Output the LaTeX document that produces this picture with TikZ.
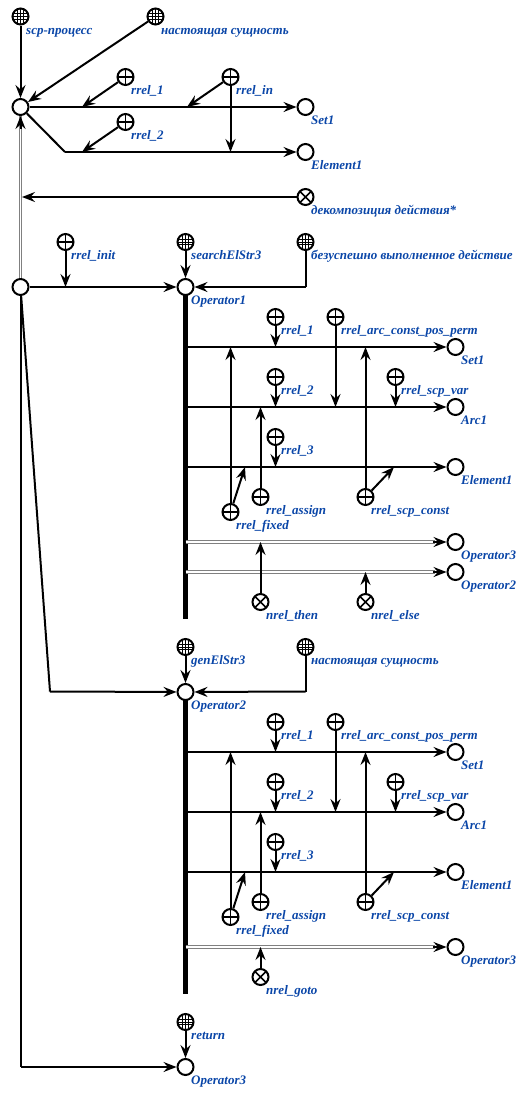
\documentclass[tikz,border=0pt]{standalone}
\usepackage{fontspec}
\setmainfont{Liberation Serif}
\usetikzlibrary{arrows.meta}
\definecolor{lab}{HTML}{0A46A8}
\tikzset{
 x=1pt,y=-1pt,
 base/.style={circle,draw=black,line width=2pt,minimum size=16pt,inner sep=0pt,fill=white},
 empty/.style={base},
 plus/.style={base,path picture={\draw[line width=1.5pt] (path picture bounding box.north)--(path picture bounding box.south) (path picture bounding box.west)--(path picture bounding box.east);}},
 cross/.style={base,path picture={\draw[line width=1.7pt] (path picture bounding box.north west)--(path picture bounding box.south east) (path picture bounding box.south west)--(path picture bounding box.north east);}},
 grid/.style={base,path picture={\draw[line width=.7pt] (-2.8,-8)--(-2.8,8) (2.8,-8)--(2.8,8) (0,-8)--(0,8) (-8,-2.8)--(8,-2.8) (-8,2.8)--(8,2.8) (-8,0)--(8,0);}},
 lbl/.style={anchor=base west,inner sep=0pt,text=lab,font=\fontsize{13}{13}\selectfont\bfseries\itshape},
 tip/.style={-{Stealth[length=13pt,width=10pt,inset=4.5pt]}},
 edge/.style={line width=2pt},
 arc/.style={edge,tip},
 dbl/.style={line width=1.3pt,draw=black!50,double=white,double distance=1.3pt},
 heavy/.style={line width=5.5pt,line cap=butt},
}
\newcommand{\lab}[4]{\node[lbl] (#1) at (#2,#3) {#4};}
\begin{document}
\begin{tikzpicture}
\useasboundingbox (0,0) rectangle (525,1096);
\coordinate (bendA) at (65,152);
\coordinate (onA) at (82,107);
\coordinate (onB) at (187,107);
\coordinate (onC) at (82,152);
\coordinate (onD) at (230.5,152);
\coordinate (onDbl) at (22,197);
\coordinate (onInit) at (65.5,287);
\coordinate (failC) at (305.5,287);
\coordinate (hA) at (185.5,295);
\coordinate (hB) at (185.5,619);
\coordinate (hC) at (185.5,700);
\coordinate (hD) at (185.5,994);
\coordinate (bendB) at (50,691.5);
\coordinate (bendC) at (20.5,1067);
\coordinate (failD) at (305.5,691.5);
\coordinate (qTip) at (20.5,129);
\node[grid] (n1) at (20.5,16.5) {};
\node[grid] (n2) at (155.5,16.5) {};
\node[empty] (p) at (20.5,107) {};
\node[plus] (r1) at (125.5,77) {};
\node[plus] (rin) at (230.5,77) {};
\node[plus] (r2) at (125.5,122) {};
\node[empty] (set0) at (305.5,107) {};
\node[empty] (el0) at (305.5,152) {};
\node[cross] (dec) at (305.5,197) {};
\node[empty] (q) at (20.5,287) {};
\node[plus] (rinit) at (65.5,242) {};
\node[grid] (sea) at (185.5,242) {};
\node[grid] (fail) at (305.5,242) {};
\node[empty] (op1) at (185.5,287) {};
\foreach \n/\x/\y/\s in {a1/275.5/317/plus,a2/335.5/317/plus,a3/275.5/377/plus,a4/395.5/377/plus,a5/275.5/437/plus,a6/230.5/512/plus,a7/260.5/497/plus,a8/365.5/497/plus,a9/260.5/602/cross,a10/365.5/602/cross,
 b1/275.5/722/plus,b2/335.5/722/plus,b3/275.5/782/plus,b4/395.5/782/plus,b5/275.5/842/plus,b6/230.5/917/plus,b7/260.5/902/plus,b8/365.5/902/plus,b9/260.5/977/cross,
 s1/455.5/347/empty,s2/455.5/407/empty,s3/455.5/467/empty,s4/455.5/542/empty,s5/455.5/572/empty,
 t1/455.5/752/empty,t2/455.5/812/empty,t3/455.5/872/empty,t4/455.5/947/empty,
 op2/185.5/692/empty,gen/185.5/647/grid,nas/305.5/647/grid,op3/185.5/1067/empty,ret/185.5/1022/grid}
  {\node[\s] (\n) at (\x,\y) {};}
\foreach \n/\x/\y in {ha/185.5/347,hb/185.5/407,hc/185.5/467,hd/185.5/542,he/185.5/572,ja/275.5/347,jb/335.5/407,jc/275.5/407,jd/395.5/407,je/275.5/467,jf/230.5/347,jg/245/467,jh/260.5/407,ji/365.5/347,jj/394/467,jk/260.5/542,jl/365.5/572,
 ia/185.5/752,ib/185.5/812,ic/185.5/872,id/185.5/947,ka/275.5/752,kb/335.5/812,kc/275.5/812,kd/395.5/812,ke/275.5/872,kf/230.5/752,kg/245/872,kh/260.5/812,ki/365.5/752,kj/394/872,kk/260.5/947,
 hdt/433/542,het/433/572,idt/433/947}
  {\coordinate (\n) at (\x,\y);}
\draw[dbl] (q) -- (p);
\draw[arc] (qTip) -- (p);
\draw[arc] (n1) -- (p);
\draw[arc] (n2) -- (p);
\draw[arc] (p) -- (set0);
\draw[edge] (p) -- (bendA);
\draw[arc] (bendA) -- (el0);
\draw[arc] (r1) -- (onA);
\draw[arc] (rin) -- (onB);
\draw[arc] (r2) -- (onC);
\draw[arc] (rin) -- (onD);
\draw[arc] (dec) -- (onDbl);
\draw[arc] (q) -- (op1);
\draw[arc] (rinit) -- (onInit);
\draw[arc] (sea) -- (op1);
\draw[edge] (fail) -- (failC);
\draw[arc] (failC) -- (op1);
\draw[heavy] (hA) -- (hB);
\draw[heavy] (hC) -- (hD);
\draw[edge] (q) -- (bendC);
\draw[arc] (bendC) -- (op3);
\draw[edge] (q) -- (bendB);
\draw[arc] (bendB) -- (op2);
\draw[arc] (gen) -- (op2);
\draw[edge] (nas) -- (failD);
\draw[arc] (failD) -- (op2);
\draw[arc] (ret) -- (op3);
\foreach \a/\b in {ha/s1,hb/s2,hc/s3,ia/t1,ib/t2,ic/t3} {\draw[arc] (\a) -- (\b);}
\foreach \a/\c/\b in {hd/hdt/s4,he/het/s5,id/idt/t4} {\draw[dbl,shorten >=12pt] (\a) -- (\b); \draw[arc] (\c) -- (\b);}
\foreach \a/\b in {a1/ja,a2/jb,a3/jc,a4/jd,a5/je,a6/jf,a6/jg,a7/jh,a8/ji,a8/jj,a9/jk,a10/jl,
 b1/ka,b2/kb,b3/kc,b4/kd,b5/ke,b6/kf,b6/kg,b7/kh,b8/ki,b8/kj,b9/kk} {\draw[arc] (\a) -- (\b);}
\lab{l1}{26}{34}{scp-процесс}
\lab{l2}{161}{34}{настоящая сущность}
\lab{l3}{131}{94}{rrel\_1}
\lab{l4}{236}{94}{rrel\_in}
\lab{l5}{131}{139}{rrel\_2}
\lab{l6}{311}{124}{Set1}
\lab{l7}{311}{169}{Element1}
\lab{l8}{311}{214}{декомпозиция действия*}
\lab{l9}{71}{259}{rrel\_init}
\lab{l10}{191}{259}{searchElStr3}
\lab{l11}{311}{259}{безуспешно выполненное действие}
\lab{l12}{191}{304}{Operator1}
\lab{l13}{281}{334}{rrel\_1}
\lab{l14}{341}{334}{rrel\_arc\_const\_pos\_perm}
\lab{l15}{461}{364}{Set1}
\lab{l16}{281}{394}{rrel\_2}
\lab{l17}{401}{394}{rrel\_scp\_var}
\lab{l18}{461}{424}{Arc1}
\lab{l19}{281}{454}{rrel\_3}
\lab{l20}{461}{484}{Element1}
\lab{l21}{266}{514}{rrel\_assign}
\lab{l22}{371}{514}{rrel\_scp\_const}
\lab{l23}{236}{529}{rrel\_fixed}
\lab{l24}{461}{559}{Operator3}
\lab{l25}{461}{589}{Operator2}
\lab{l26}{266}{619}{nrel\_then}
\lab{l27}{371}{619}{nrel\_else}
\lab{l28}{191}{664}{genElStr3}
\lab{l29}{311}{664}{настоящая сущность}
\lab{l30}{191}{709}{Operator2}
\lab{l31}{281}{739}{rrel\_1}
\lab{l32}{341}{739}{rrel\_arc\_const\_pos\_perm}
\lab{l33}{461}{769}{Set1}
\lab{l34}{281}{799}{rrel\_2}
\lab{l35}{401}{799}{rrel\_scp\_var}
\lab{l36}{461}{829}{Arc1}
\lab{l37}{281}{859}{rrel\_3}
\lab{l38}{461}{889}{Element1}
\lab{l39}{266}{919}{rrel\_assign}
\lab{l40}{371}{919}{rrel\_scp\_const}
\lab{l41}{236}{934}{rrel\_fixed}
\lab{l42}{461}{964}{Operator3}
\lab{l43}{266}{994}{nrel\_goto}
\lab{l44}{191}{1039}{return}
\lab{l45}{191}{1084}{Operator3}
\end{tikzpicture}
\end{document}
